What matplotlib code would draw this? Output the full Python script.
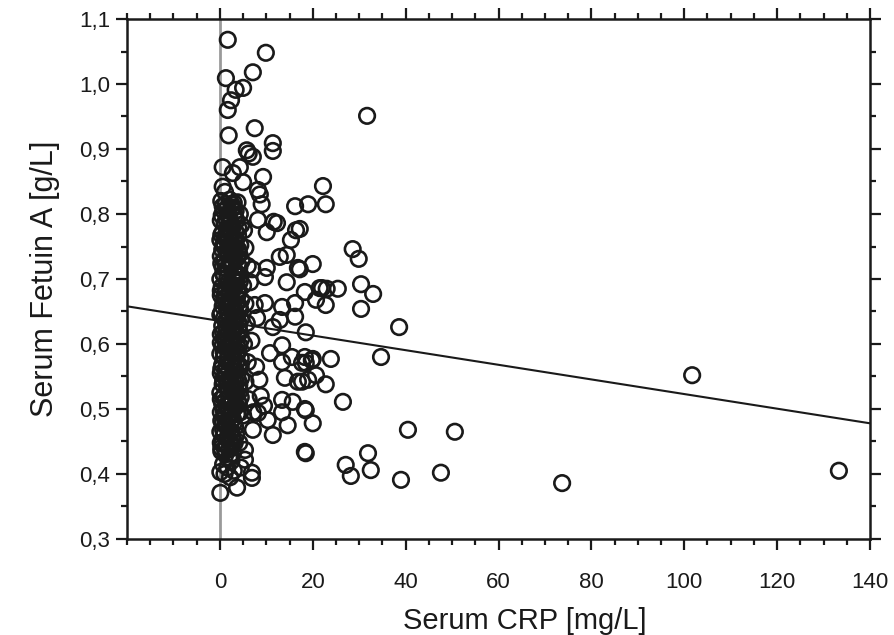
import matplotlib
matplotlib.use("Agg")
import matplotlib.pyplot as plt
import numpy as np
from matplotlib.ticker import MultipleLocator, FuncFormatter

# ---- data: sparse points (CRP mg/L, Fetuin A g/L) ----
crp_sparse = [1.7, 9.9, 1.3, 7.1, 5.0, 3.4, 2.4, 1.7, 1.9, 7.5, 11.4, 11.4, 5.8, 7.1, 6.2,
              0.6, 4.3, 2.8, 5.0, 9.3, 8.2, 0.6, 1.1, 8.6, 9.0, 3.0,
              22.2, 19.0, 22.8, 17.2, 28.6, 29.9, 20.0, 17.2, 18.3, 22.0, 23.0, 25.4, 20.7, 22.8,
              30.4, 33.0, 30.4, 38.6, 18.5, 31.7,
              16.2, 8.2, 12.3, 10.1, 15.3, 16.4, 12.9, 14.4, 16.8, 10.1, 9.7, 14.4, 21.5,
              16.2, 13.4, 9.7, 16.2, 12.9, 11.4, 13.4, 15.5, 18.3, 10.8, 11.6,
              18.5, 20.0, 23.9, 34.7, 20.7, 19.0, 17.7, 22.8, 26.5, 18.5, 20.0, 40.5, 50.6,
              18.5, 31.9, 27.1, 28.2, 32.5, 39.0, 47.6, 73.7, 101.7, 133.3,
              13.4, 17.7, 19.8, 14.0, 16.8, 13.4, 15.7, 18.3, 13.4, 14.6, 11.4, 10.3, 8.2,
              7.1, 5.4, 5.4, 18.3, 6.9, 6.9, 3.7, 0.1, 0.1, 2.2, 0.3, 2.6]
fet_sparse = [1.068, 1.048, 1.009, 1.018, 0.994, 0.991, 0.975, 0.960, 0.921, 0.932, 0.909, 0.897, 0.898, 0.888, 0.893,
              0.872, 0.872, 0.863, 0.849, 0.857, 0.837, 0.842, 0.834, 0.830, 0.815, 0.817,
              0.843, 0.815, 0.815, 0.777, 0.746, 0.731, 0.723, 0.715, 0.680, 0.686, 0.685, 0.685, 0.668, 0.660,
              0.692, 0.677, 0.654, 0.626, 0.618, 0.951,
              0.812, 0.791, 0.786, 0.772, 0.760, 0.775, 0.734, 0.737, 0.717, 0.717, 0.703, 0.695, 0.686,
              0.663, 0.657, 0.663, 0.642, 0.637, 0.626, 0.598, 0.580, 0.580, 0.586, 0.788,
              0.571, 0.577, 0.577, 0.580, 0.552, 0.545, 0.542, 0.538, 0.511, 0.498, 0.478, 0.468, 0.465,
              0.432, 0.432, 0.414, 0.397, 0.406, 0.391, 0.402, 0.386, 0.552, 0.405,
              0.572, 0.571, 0.575, 0.548, 0.542, 0.514, 0.511, 0.500, 0.495, 0.475, 0.460, 0.483, 0.494,
              0.468, 0.437, 0.422, 0.434, 0.402, 0.394, 0.379, 0.371, 0.403, 0.395, 0.440, 0.442]

# ---- data: dense cluster near CRP = 0..9 ----
crp_cluster = [0.3, 1.2, 2.1, 3.0, 3.8, 0.8, 1.7, 2.6, 4.3,
               0.2, 1.0, 1.9, 2.8, 3.6, 4.6, 0.6, 1.5, 2.4, 3.3, 5.2,
               0.1, 0.9, 1.8, 2.7, 3.5, 4.4, 0.5, 1.4, 2.2, 3.1, 4.0, 5.5,
               0.2, 1.0, 1.9, 2.8, 3.7, 4.7, 0.6, 1.5, 2.4, 3.3, 4.2, 6.0, 7.0,
               0.1, 0.9, 1.8, 2.7, 3.6, 4.5, 0.4, 1.3, 2.2, 3.1, 4.0, 5.0, 6.5,
               0.2, 1.0, 1.9, 2.8, 3.7, 4.6, 0.6, 1.5, 2.4, 3.3, 4.2, 5.5, 7.5,
               0.1, 0.9, 1.8, 2.7, 3.6, 4.5, 0.5, 1.4, 2.3, 3.2, 4.1, 5.8, 8.0,
               0.2, 1.0, 1.9, 2.8, 3.7, 4.6, 0.6, 1.5, 2.4, 3.3, 4.2, 5.2, 6.8,
               0.1, 0.9, 1.8, 2.7, 3.6, 4.5, 0.5, 1.4, 2.3, 3.2, 4.1, 6.0, 7.8,
               0.2, 1.0, 1.9, 2.8, 3.7, 4.6, 0.6, 1.5, 2.4, 3.3, 4.2, 5.5, 8.5,
               0.1, 0.9, 1.8, 2.7, 3.6, 4.5, 0.5, 1.4, 2.3, 3.2, 4.1, 6.2, 8.8, 9.5,
               0.2, 1.0, 1.9, 2.8, 3.7, 0.6, 1.5, 2.4, 3.3, 5.0, 7.2,
               0.1, 0.9, 1.8, 2.7, 0.5, 1.4, 2.3, 3.5, 4.2,
               0.3, 1.2, 2.0, 0.7, 1.6, 2.5, 1.0, 3.0, 4.5,
               # second, interleaved layer
               0.6, 1.5, 2.5, 3.4,
               0.4, 1.4, 2.3, 3.2, 4.0,
               0.3, 1.2, 2.0, 3.0, 3.9,
               0.7, 1.6, 2.5, 3.4, 4.2,
               0.3, 1.2, 2.1, 3.0, 3.9,
               0.7, 1.6, 2.5, 3.4, 4.3,
               0.2, 1.1, 2.0, 2.9, 3.9,
               0.8, 1.7, 2.6, 3.5, 4.4,
               0.3, 1.2, 2.1, 3.0, 3.9,
               0.7, 1.6, 2.5, 3.4, 4.3,
               0.2, 1.1, 2.0, 2.9, 3.9,
               0.8, 1.7, 2.6, 3.5, 4.4,
               0.3, 1.2, 2.1, 3.0, 3.9,
               0.7, 1.6, 2.5, 3.4, 4.3,
               0.2, 1.1, 2.0, 2.9, 3.9,
               0.8, 1.7, 2.6, 3.5, 4.4,
               0.3, 1.2, 2.1, 3.0,
               0.7, 1.6, 2.5, 3.2,
               0.2, 1.1, 2.0, 2.8]
fet_cluster = [0.820, 0.815, 0.822, 0.810, 0.818, 0.805, 0.800, 0.808, 0.800,
               0.790, 0.785, 0.795, 0.780, 0.790, 0.783, 0.772, 0.775, 0.770, 0.774, 0.775,
               0.760, 0.755, 0.765, 0.750, 0.760, 0.752, 0.745, 0.742, 0.748, 0.740, 0.745, 0.748,
               0.735, 0.730, 0.738, 0.725, 0.732, 0.728, 0.718, 0.715, 0.720, 0.712, 0.718, 0.720, 0.715,
               0.700, 0.705, 0.695, 0.702, 0.698, 0.705, 0.688, 0.685, 0.682, 0.690, 0.684, 0.690, 0.695,
               0.675, 0.670, 0.678, 0.665, 0.672, 0.668, 0.658, 0.655, 0.660, 0.652, 0.658, 0.662, 0.660,
               0.645, 0.640, 0.648, 0.635, 0.642, 0.638, 0.628, 0.625, 0.630, 0.622, 0.628, 0.632, 0.640,
               0.615, 0.610, 0.618, 0.605, 0.612, 0.608, 0.598, 0.595, 0.600, 0.592, 0.598, 0.600, 0.605,
               0.585, 0.580, 0.588, 0.575, 0.582, 0.578, 0.568, 0.565, 0.570, 0.562, 0.568, 0.572, 0.565,
               0.555, 0.550, 0.558, 0.545, 0.552, 0.548, 0.538, 0.535, 0.540, 0.532, 0.538, 0.542, 0.545,
               0.525, 0.520, 0.528, 0.515, 0.522, 0.518, 0.508, 0.505, 0.510, 0.502, 0.508, 0.515, 0.520, 0.505,
               0.495, 0.490, 0.498, 0.485, 0.492, 0.478, 0.475, 0.480, 0.472, 0.490, 0.495,
               0.465, 0.460, 0.468, 0.455, 0.448, 0.445, 0.450, 0.460, 0.448,
               0.435, 0.430, 0.438, 0.415, 0.410, 0.420, 0.400, 0.405, 0.410,
               # second, interleaved layer
               0.812, 0.808, 0.815, 0.805,
               0.798, 0.792, 0.788, 0.797, 0.778,
               0.768, 0.764, 0.778, 0.762, 0.768,
               0.752, 0.758, 0.738, 0.749, 0.738,
               0.724, 0.722, 0.728, 0.735, 0.722,
               0.708, 0.702, 0.692, 0.706, 0.696,
               0.682, 0.678, 0.668, 0.684, 0.678,
               0.665, 0.662, 0.652, 0.662, 0.652,
               0.648, 0.635, 0.642, 0.648, 0.635,
               0.618, 0.612, 0.622, 0.628, 0.618,
               0.602, 0.605, 0.595, 0.598, 0.588,
               0.588, 0.578, 0.585, 0.572, 0.565,
               0.562, 0.558, 0.548, 0.558, 0.545,
               0.545, 0.542, 0.532, 0.542, 0.528,
               0.515, 0.512, 0.518, 0.528, 0.512,
               0.498, 0.505, 0.495, 0.505, 0.495,
               0.482, 0.478, 0.488, 0.478,
               0.468, 0.455, 0.465, 0.448,
               0.448, 0.438, 0.425, 0.432]

# ---- regression line (intercept, slope) ----
reg_intercept = 0.6355
reg_slope = -0.001125

x_lim = (-20, 140)
y_lim = (0.3, 1.1)
x_ticks = [0, 20, 40, 60, 80, 100, 120, 140]
y_ticks = [0.3, 0.4, 0.5, 0.6, 0.7, 0.8, 0.9, 1.0, 1.1]

plt.rcParams['font.family'] = ['Liberation Sans', 'DejaVu Sans']

fig = plt.figure(figsize=(8.94, 6.35), dpi=100)
ax = fig.add_axes([127/894, 96/635, 743/894, 520/635])

ax.axvline(0, color='#9a9a9a', lw=2.0, zorder=1)

xs = np.array(crp_cluster + crp_sparse)
ys = np.array(fet_cluster + fet_sparse)
ax.scatter(xs, ys, s=125, facecolors='none', edgecolors='#1a1a1a', linewidths=1.9, zorder=3)

xl = np.array(x_lim, dtype=float)
ax.plot(xl, reg_intercept + reg_slope * xl, color='#1a1a1a', lw=1.5, zorder=4)

ax.set_xlim(*x_lim)
ax.set_ylim(*y_lim)
ax.set_xticks(x_ticks)
ax.set_yticks(y_ticks)
ax.xaxis.set_minor_locator(MultipleLocator(5))
ax.yaxis.set_minor_locator(MultipleLocator(0.05))
ax.yaxis.set_major_formatter(FuncFormatter(lambda v, p: f"{v:.1f}".replace('.', ',')))

for s in ax.spines.values():
    s.set_linewidth(1.8)
    s.set_color('#1a1a1a')

ax.tick_params(which='both', direction='out', top=True, right=True, color='#1a1a1a', width=1.6)
ax.tick_params(which='major', length=8)
ax.tick_params(which='minor', length=4)
ax.tick_params(axis='x', which='major', pad=16, labelsize=16, labelcolor='#1a1a1a')
ax.tick_params(axis='y', which='major', pad=4, labelsize=16, labelcolor='#1a1a1a')

ax.set_xlabel('Serum CRP [mg/L]', fontsize=21, color='#1a1a1a')
ax.xaxis.set_label_coords(0.536, -0.13)
ax.set_ylabel('Serum Fetuin A [g/L]', fontsize=22, color='#1a1a1a', labelpad=14)

fig.savefig('out.png', dpi=100)
